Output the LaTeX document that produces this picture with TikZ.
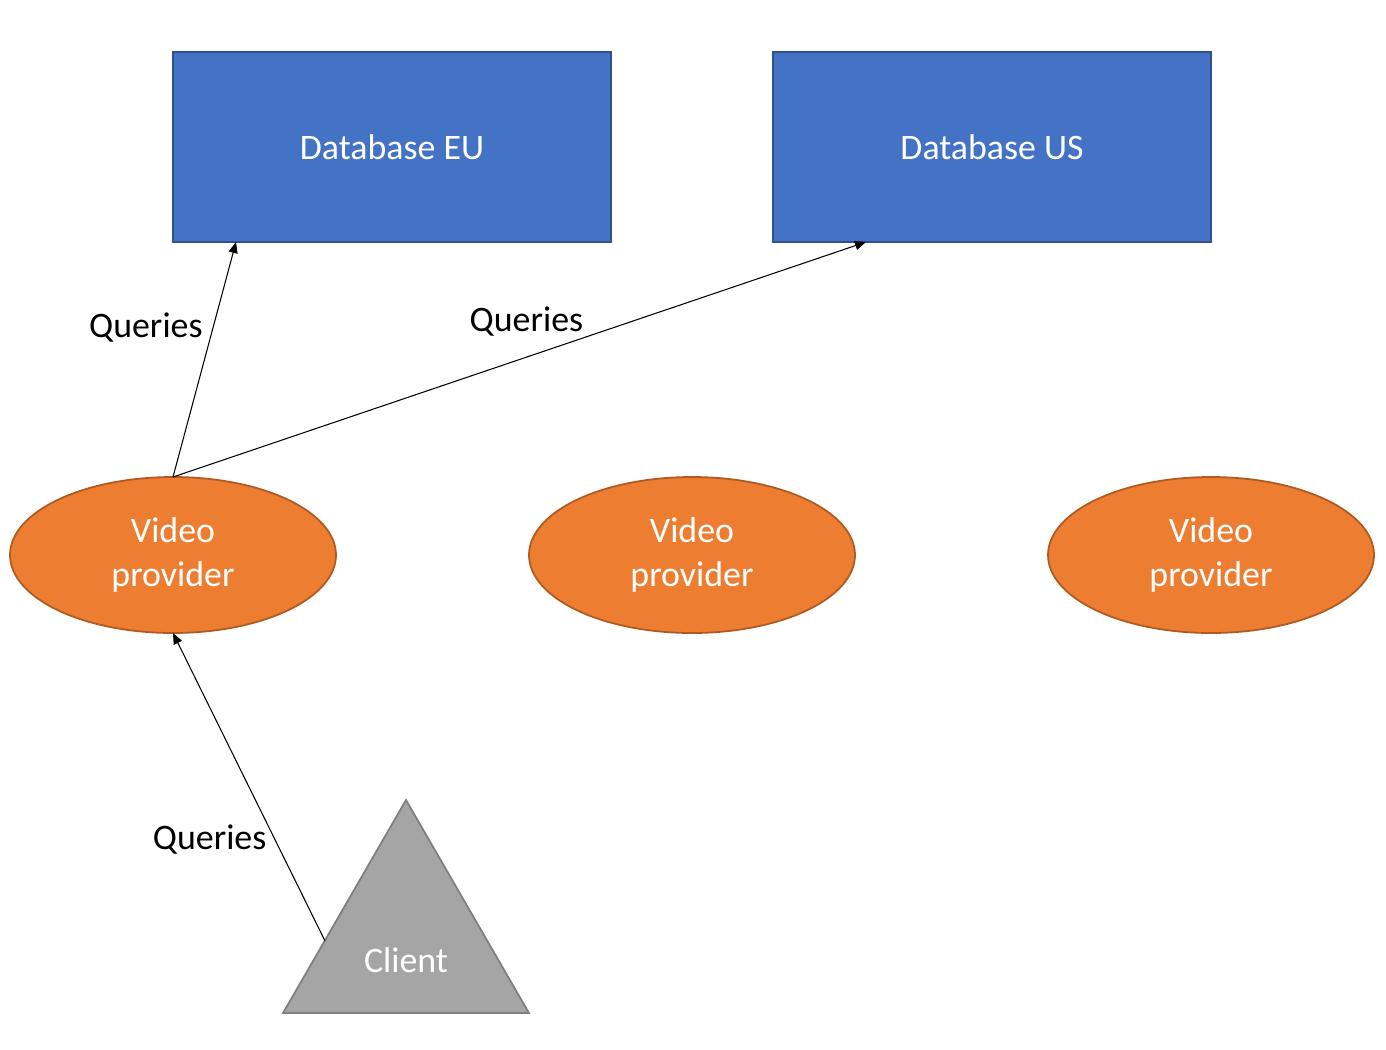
\documentclass[tikz,border=0pt]{standalone}
\usepackage{fontspec}
\setmainfont{Carlito}
\usepackage{tikz}
\usetikzlibrary{positioning,arrows.meta,shapes.geometric,calc}

\definecolor{dbblue}{HTML}{4472C4}
\definecolor{dbedge}{HTML}{2F528F}
\definecolor{vporange}{HTML}{ED7D31}
\definecolor{vpedge}{HTML}{AE5A21}
\definecolor{clientgray}{HTML}{A5A5A5}
\definecolor{clientedge}{HTML}{7F7F7F}

\begin{document}
\begin{tikzpicture}
	\tikzset{
		bigfont/.style={font=\fontsize{20.4}{25}\selectfont},
		dbbox/.style={draw=dbedge,fill=dbblue,line width=1pt,text=white,bigfont,
			minimum width=8.76cm,minimum height=3.8cm,outer sep=0pt},
		provider/.style={ellipse,draw=vpedge,fill=vporange,line width=1pt,text=white,bigfont,
			align=center,minimum width=6.52cm,minimum height=3.12cm,outer sep=0pt},
		clientshape/.style={regular polygon,regular polygon sides=3,draw=clientedge,
			fill=clientgray,line width=1pt,minimum size=5.68cm,inner sep=0pt,outer sep=0pt},
		querylabel/.style={bigfont,text=black},
		>={Triangle[length=2.2mm,width=1.8mm]}
	}
	\useasboundingbox (0,0) rectangle (27.72,-20.98);

	%% databases
	\node[dbbox] (dbeu) at (7.84,-2.94) {Database EU};
	\node[dbbox] (dbus) at (19.84,-2.94) {Database US};

	%% video providers
	\node[provider] (vp1) at (3.46,-11.1) {Video\\provider};
	\node[provider] (vp2) at (13.84,-11.1) {Video\\provider};
	\node[provider] (vp3) at (24.22,-11.1) {Video\\provider};

	%% client
	\node[clientshape,label={[text=white,bigfont,yshift=-0.36cm]center:Client}] (client) at (8.12,-18.84) {};
	\coordinate (cq) at ($(client.corner 1)!0.66!(client.corner 2)$);

	\path[->,line width=0.6pt]
		(vp1.north) edge node[querylabel,left,pos=0.65,xshift=-0.1cm,yshift=-0.06cm] {Queries} ([xshift=1.26cm]dbeu.south west)
		(vp1.north) edge node[querylabel,above,pos=0.51,yshift=0.3cm] {Queries} ([xshift=1.86cm]dbus.south west)
		(cq) edge node[querylabel,left,pos=0.33,xshift=-0.04cm] {Queries} (vp1.south);
\end{tikzpicture}
\end{document}
